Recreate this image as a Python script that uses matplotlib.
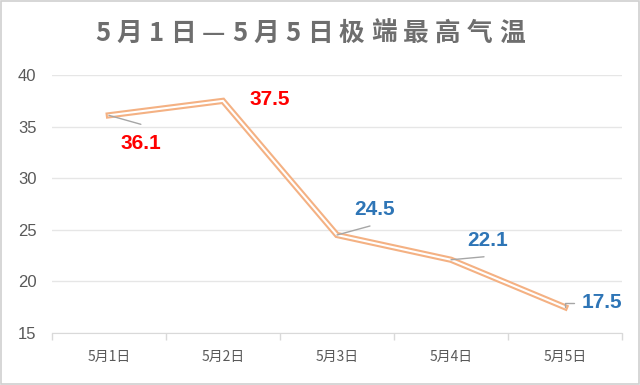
import matplotlib
matplotlib.use("Agg")
import matplotlib.pyplot as plt
from matplotlib.patches import Rectangle

plt.rcParams['font.family'] = ['Noto Sans CJK SC', 'DejaVu Sans']

categories = ['5月1日', '5月2日', '5月3日', '5月4日', '5月5日']
values = [36.1, 37.5, 24.5, 22.1, 17.5]
label_colors = ['#FF0000', '#FF0000', '#2E75B6', '#2E75B6', '#2E75B6']
# label centre offsets from point, in pixels (right, down)
label_offsets = [(32, 28), (47, -1), (38, -26), (37, -19), (37, -5)]
# leader line end offsets, in pixels (right, down); None = no leader
leader_ends = [(32, 9), None, (33, -9), (33, -3), (9, -4)]
title = '5月1日—5月5日极端最高气温'
yticks = [15, 20, 25, 30, 35, 40]

fig = plt.figure(figsize=(6.4, 3.85), dpi=100)
fig.patches.append(Rectangle((0.002, 0.003), 0.996, 0.994, transform=fig.transFigure,
                             fill=False, edgecolor='#D0D0D0', linewidth=1.2))
ax = fig.add_axes([0.081, 0.135, 0.891, 0.670])

x = list(range(len(categories)))
ax.plot(x, values, color='#F4B183', linewidth=4.5, solid_joinstyle='miter', zorder=3)
ax.plot(x, values, color='white', linewidth=1.5, solid_joinstyle='miter', zorder=4)

ax.set_xlim(-0.5, len(categories) - 0.5)
ax.set_ylim(15, 40)
ax.set_yticks(yticks)
ax.set_yticklabels([str(v) for v in yticks], fontsize=12, color='#595959',
                   family=['Liberation Sans'])
ax.set_xticks(x)
ax.set_xticklabels(categories, fontsize=10, color='#595959')
ax.tick_params(axis='x', length=0, pad=12)
ax.tick_params(axis='y', length=0, pad=11)
ax.set_xticks([i - 0.5 for i in range(len(categories) + 1)], minor=True)
ax.tick_params(axis='x', which='minor', length=5, color='#D9D9D9', width=1)
ax.grid(axis='y', color='#E6E6E6', linewidth=1)
ax.set_axisbelow(True)
for s in ['left', 'right', 'top']:
    ax.spines[s].set_visible(False)
ax.spines['bottom'].set_color('#D9D9D9')

px2pt = 0.72
for xi, v, c, (dx, dy), le in zip(x, values, label_colors, label_offsets, leader_ends):
    if le is not None:
        if le == (9, -4):
            ax.annotate('', xy=(xi, v), xytext=(le[0] * px2pt, -le[1] * px2pt),
                        textcoords='offset points',
                        arrowprops=dict(arrowstyle='-', color='#A6A6A6', lw=1,
                                        shrinkA=0, shrinkB=0,
                                        connectionstyle='angle,angleA=0,angleB=90,rad=0'),
                        zorder=5)
        else:
            ax.annotate('', xy=(xi, v), xytext=(le[0] * px2pt, -le[1] * px2pt),
                        textcoords='offset points',
                        arrowprops=dict(arrowstyle='-', color='#A6A6A6', lw=1,
                                        shrinkA=0, shrinkB=0), zorder=5)
    ax.annotate(f'{v}', xy=(xi, v), xytext=(dx * px2pt, -dy * px2pt),
                textcoords='offset points', ha='center', va='center',
                fontsize=15, fontweight='bold', color=c, family=['Liberation Sans'],
                zorder=6)

# title with character spacing
renderer = fig.canvas.get_renderer()
title_left, title_right, title_y = 95, 525, 0.914
chars = list(title)
texts = [fig.text(0, title_y, ch, ha='left', va='center', fontsize=18.5,
                  fontweight='bold', color='#6E6E6E') for ch in chars]
widths = [t.get_window_extent(renderer).width for t in texts]
gap = (title_right - title_left - sum(widths)) / (len(chars) - 1)
pos = title_left
for t, w in zip(texts, widths):
    t.set_x(pos / 640)
    pos += w + gap

fig.savefig('out.png', dpi=100)
